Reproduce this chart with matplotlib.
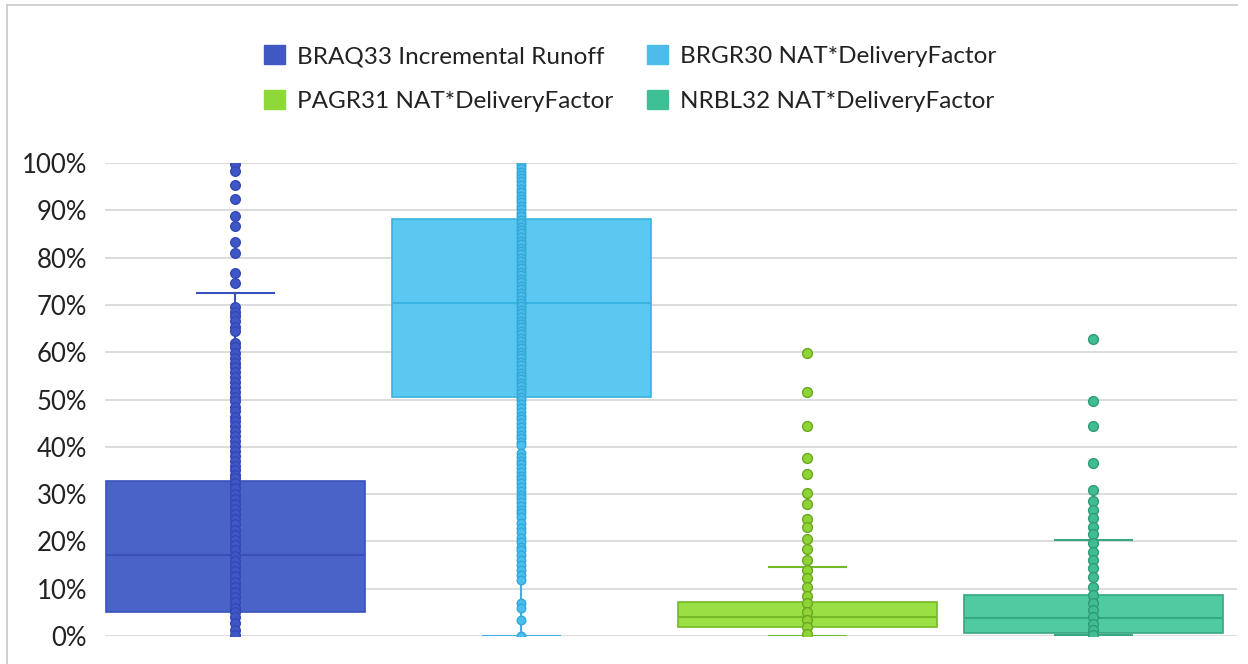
import matplotlib
matplotlib.use("Agg")
import matplotlib.pyplot as plt
from matplotlib.patches import Patch
from matplotlib.lines import Line2D

plt.rcParams['font.family'] = ['Lato', 'DejaVu Sans']

# series names (legend)
names = ["BRAQ33 Incremental Runoff", "BRGR30 NAT*DeliveryFactor",
         "PAGR31 NAT*DeliveryFactor", "NRBL32 NAT*DeliveryFactor"]

# box statistics, percent
q1 = [5.0, 50.5, 1.8, 0.6]
med = [17.1, 70.4, 4.1, 3.9]
q3 = [32.8, 88.2, 7.1, 8.7]
whis_lo = [0.2, 0.0, 0.0, 0.2]
whis_hi = [72.6, 100.0, 14.6, 20.3]

# individual points (percent)
pts_braq = [99.8, 98.4, 95.3, 92.3, 88.7, 86.7, 83.2, 81.0, 76.8, 74.6,
            69.6, 68.5, 67.6, 66.7, 65.4, 64.4, 62.0, 61.0, 59.9, 58.8,
            57.8, 56.9, 55.8, 54.8, 53.7, 52.7, 51.6, 50.6, 49.6, 48.5,
            47.5, 46.4, 45.4, 44.3, 43.3, 42.2, 41.2, 40.1, 39.1, 38.0,
            37.0, 36.0, 35.0, 34.0, 33.4, 32.3, 31.2, 30.1, 29.0, 27.9,
            26.9, 25.8, 24.7, 23.6, 22.5, 21.4, 20.3, 19.2, 18.1, 17.0,
            15.9, 14.8, 13.7, 12.6, 11.5, 10.4, 9.3, 8.2, 7.1, 6.0,
            5.0, 4.1, 2.7, 1.3, 0.2]
pts_brgr = [100.3, 99.6, 98.9, 98.2, 97.5, 96.8, 96.1, 95.3, 94.6, 93.9,
            93.1, 92.4, 91.7, 90.9, 90.2, 89.5, 88.7, 88.0, 87.3, 86.5,
            85.8, 85.1, 84.3, 83.6, 82.9, 82.1, 81.4, 80.7, 79.9, 79.2,
            78.5, 77.7, 77.0, 76.3, 75.5, 74.8, 74.1, 73.3, 72.6, 71.9,
            71.1, 70.4, 69.7, 68.9, 68.2, 67.5, 66.7, 66.0, 65.3, 64.5,
            63.8, 63.1, 62.3, 61.6, 60.9, 60.1, 59.4, 58.7, 57.9, 57.2,
            56.5, 55.7, 55.0, 54.3, 53.5, 52.8, 52.1, 51.3, 50.6, 49.8,
            49.0, 48.2, 47.4, 46.6, 45.8, 45.0, 44.2, 43.4, 42.6, 41.8,
            41.0, 40.4, 38.7, 37.9, 37.1, 36.3, 35.5, 34.7, 33.9, 33.1,
            32.3, 31.5, 30.7, 29.9, 29.1, 28.3, 27.5, 26.7, 25.9, 25.2,
            23.9, 22.9, 21.9, 20.8, 19.8, 18.8, 18.2, 17.2, 16.1, 15.0,
            13.9, 12.8, 11.8, 6.9, 5.9, 3.4, 0.0]
pts_pagr = [59.9, 51.5, 44.5, 37.7, 34.2, 30.2, 28.0, 24.8, 23.0, 20.6,
            18.4, 16.1, 14.0, 12.2, 10.4, 8.5, 6.9, 5.1, 3.4, 2.0, 0.4]
pts_nrbl = [62.8, 49.7, 44.5, 36.6, 30.9, 28.5, 26.6, 24.9, 23.1, 21.5,
            19.6, 17.8, 16.1, 14.3, 12.5, 10.4, 8.7, 7.0, 5.5, 4.0,
            2.6, 1.2, 0.2]
points = [pts_braq, pts_brgr, pts_pagr, pts_nrbl]

fill_c = ["#4a63c9", "#5ac8f0", "#98e043", "#4ecba1"]
edge_c = ["#3a51bb", "#3bb2e2", "#73b928", "#37a883"]
dot_c = ["#3f57c6", "#4dbdea", "#8fd334", "#41bd93"]
dot_e = ["#3348b3", "#34a8d8", "#6aa821", "#2f9c77"]
legend_c = ["#3f58c2", "#4cbbe9", "#8fd83a", "#3ebf95"]
dot_size = [48, 38, 50, 50]

fig = plt.figure(figsize=(12.48, 6.64), dpi=100)
ax = fig.add_axes([105 / 1248, 28 / 664, 1132 / 1248, 473 / 664])

stats = []
for i in range(4):
    stats.append(dict(med=med[i], q1=q1[i], q3=q3[i],
                      whislo=whis_lo[i], whishi=whis_hi[i], fliers=[]))
pos = list(range(4))
bp = ax.bxp(stats, positions=pos, widths=0.905, patch_artist=True,
            showfliers=False, zorder=2)
for i in range(4):
    bp['boxes'][i].set_facecolor(fill_c[i])
    bp['boxes'][i].set_edgecolor(edge_c[i])
    bp['boxes'][i].set_linewidth(1.2)
    bp['medians'][i].set_color(edge_c[i])
    bp['medians'][i].set_linewidth(1.5)
    for w in bp['whiskers'][2 * i:2 * i + 2]:
        w.set_color(edge_c[i])
        w.set_linewidth(1.5)
    for c in bp['caps'][2 * i:2 * i + 2]:
        c.set_color(edge_c[i])
        c.set_linewidth(1.5)
        c.set_xdata([pos[i] - 0.135, pos[i] + 0.135])

# these two caps are hidden under the dots in the original
bp['caps'][0].set_visible(False)
bp['caps'][3].set_visible(False)

for i in range(4):
    ax.scatter([pos[i]] * len(points[i]), points[i], s=dot_size[i],
               color=dot_c[i], edgecolor=dot_e[i], linewidth=1.0, zorder=3)

ax.set_xlim(-0.455, 3.503)
ax.set_ylim(0, 100)
ax.set_yticks(range(0, 101, 10))
ax.set_yticklabels([f"{v}%" for v in range(0, 101, 10)], fontsize=18.5,
                   color="#222222")
ax.set_xticks([])
ax.tick_params(axis='y', length=0, pad=13)
ax.grid(axis='y', color="#d9d9d9", linewidth=1.3, zorder=0)
ax.set_axisbelow(True)
for s in ax.spines.values():
    s.set_visible(False)

handles = [Patch(facecolor=legend_c[0], edgecolor=legend_c[0]),
           Patch(facecolor=legend_c[2], edgecolor=legend_c[2]),
           Patch(facecolor=legend_c[1], edgecolor=legend_c[1]),
           Patch(facecolor=legend_c[3], edgecolor=legend_c[3])]
labels = [names[0], names[2], names[1], names[3]]
fig.legend(handles, labels, ncol=2, loc='center', bbox_to_anchor=(0.505, 0.882),
           frameon=False, fontsize=17.5, handlelength=0.85, handleheight=0.85,
           handletextpad=0.5, columnspacing=1.4, labelspacing=0.93,
           labelcolor="#222222")

# outer chart border (top and left edges)
fig.add_artist(Line2D([7 / 1248, 1237 / 1248], [1 - 5 / 664, 1 - 5 / 664],
                      color="#c8c8c8", linewidth=1.2))
fig.add_artist(Line2D([7 / 1248, 7 / 1248], [0, 1 - 5 / 664],
                      color="#c8c8c8", linewidth=1.2))

fig.savefig("out.png", dpi=100)
